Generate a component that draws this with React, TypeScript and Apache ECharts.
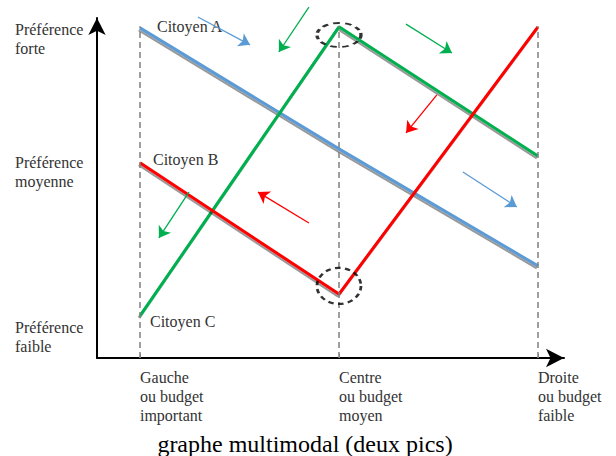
import React, { useEffect, useRef } from "react";
import * as echarts from "echarts";

// Positions on the x axis: 0 = Gauche, 1 = Centre, 2 = Droite
const positions = [0, 1, 2];
const xLabels = ["Gauche\nou budget\nimportant", "Centre\nou budget\nmoyen", "Droite\nou budget\nfaible"];

// Preference (0-100) for each citizen at each position
const citoyenA = [97.1, 61.5, 27.1];
const citoyenB = [57.4, 18.8, 97.4];
const citoyenC = [12.4, 97.4, 59.4];
const seriesNames = ["Citoyen A", "Citoyen B", "Citoyen C"];

// Y axis labels
const yLabelValues = [93.8, 54.7, 6.2];
const yLabels = ["Préférence\nforte", "Préférence\nmoyenne", "Préférence\nfaible"];

// Dashed guides top
const guideTop = 97.6;

// Movement arrows: [x0, y0, x1, y1]
const arrowsBlue = [
  [0.291, 100.3, 0.553, 92.1],
  [1.623, 54.7, 1.894, 44.4],
];
const arrowsGreen = [
  [0.849, 103.2, 0.698, 90.0],
  [1.337, 98.2, 1.568, 89.7],
  [0.246, 48.8, 0.095, 35.3],
];
const arrowsRed = [
  [1.492, 77.4, 1.337, 66.2],
  [0.849, 39.7, 0.593, 48.8],
];

// Peaks (dashed ellipses)
const peaks = [
  [1.0, 95.0],
  [1.0, 21.2],
];
const peakSizes = [
  [44, 24],
  [44, 36],
];

const title = "graphe multimodal (deux pics)";

const BLUE = "#5B9BD5";
const GREEN = "#00B050";
const RED = "#FF0000";
const FONT = "serif";

export default function App() {
  const ref = useRef<HTMLDivElement>(null);

  useEffect(() => {
    if (!ref.current) return;
    const chart = echarts.init(ref.current, undefined, { renderer: "svg" });

    const shadow = {
      shadowColor: "rgba(0,0,0,0.4)",
      shadowBlur: 1,
      shadowOffsetX: -1,
      shadowOffsetY: 2,
    };

    const makeLine = (name: string, vals: number[], color: string, lbl: any) => ({
      name,
      type: "line",
      data: vals.map((v, i) =>
        i === 0
          ? {
              value: [positions[i], v],
              label: {
                show: true,
                formatter: name,
                position: "right",
                distance: lbl.distance,
                offset: lbl.offset,
                color: "#333",
                fontFamily: FONT,
                fontSize: 16,
              },
            }
          : { value: [positions[i], v] }
      ),
      symbol: "circle",
      symbolSize: 0,
      showSymbol: true,
      lineStyle: { color, width: 3, ...shadow },
      itemStyle: { color },
      z: 3,
    });

    const makeArrows = (arr: number[][], color: string) => ({
      type: "lines",
      coordinateSystem: "cartesian2d",
      clip: false,
      symbol: ["none", "arrow"],
      symbolSize: 11,
      lineStyle: { color, width: 1.3, opacity: 1 },
      data: arr.map((a) => ({ coords: [[a[0], a[1]], [a[2], a[3]]] })),
      z: 4,
    });

    chart.setOption({
      animation: false,
      textStyle: { fontFamily: FONT },
      grid: { left: 97, top: 18, right: 52, bottom: 98 },
      title: {
        text: title,
        left: 305,
        textAlign: "center",
        top: 432,
        padding: 0,
        textStyle: { fontFamily: FONT, fontSize: 24, lineHeight: 24, fontWeight: "normal", color: "#000" },
      },
      xAxis: {
        type: "value",
        min: -0.216,
        max: 2.131,
        splitLine: { show: false },
        axisLine: {
          show: true,
          onZero: false,
          symbol: ["none", "arrow"],
          symbolSize: [14, 18],
          lineStyle: { color: "#000", width: 2 },
        },
        axisTick: {
          show: true,
          inside: true,
          length: 4,
          customValues: positions,
          lineStyle: { color: "#888", width: 1 },
        },
        axisLabel: {
          show: true,
          customValues: positions,
          formatter: (v: number) => xLabels[Math.round(v)] ?? "",
          align: "left",
          margin: 10,
          fontFamily: FONT,
          fontSize: 16,
          lineHeight: 19,
          color: "#333",
        },
      },
      yAxis: {
        type: "value",
        min: 0,
        max: 100,
        splitLine: { show: false },
        axisLine: {
          show: true,
          onZero: false,
          symbol: ["none", "arrow"],
          symbolSize: [13, 17],
          lineStyle: { color: "#000", width: 2 },
        },
        axisTick: { show: false },
        axisLabel: {
          show: true,
          customValues: yLabelValues,
          formatter: (v: number) => {
            const i = yLabelValues.findIndex((x) => Math.abs(x - v) < 0.01);
            return i >= 0 ? yLabels[i] : "";
          },
          align: "left",
          margin: 82,
          fontFamily: FONT,
          fontSize: 16,
          lineHeight: 19,
          color: "#333",
        },
      },
      series: [
        {
          type: "line",
          data: [],
          silent: true,
          markLine: {
            silent: true,
            symbol: ["none", "none"],
            label: { show: false },
            lineStyle: { color: "#808080", width: 1.5, type: [6, 4] },
            data: positions.map((p) => [{ coord: [p, 0] }, { coord: [p, guideTop] }]),
          },
          z: 1,
        },
        makeLine(seriesNames[0], citoyenA, BLUE, { distance: 17, offset: [0, -1] }),
        makeLine(seriesNames[2], citoyenC, GREEN, { distance: 10, offset: [0, 6] }),
        makeLine(seriesNames[1], citoyenB, RED, { distance: 13, offset: [0, -3] }),
        makeArrows(arrowsBlue, BLUE),
        makeArrows(arrowsGreen, GREEN),
        makeArrows(arrowsRed, RED),
        {
          type: "scatter",
          silent: true,
          data: peaks.map((p, i) => ({ value: p, symbolSize: peakSizes[i] })),
          symbol: "circle",
          itemStyle: {
            color: "transparent",
            borderColor: "#000",
            borderWidth: 2.5,
            borderType: [5, 4],
          },
          z: 5,
        },
      ],
    });

    return () => chart.dispose();
  }, []);

  return <div ref={ref} style={{ width: 616, height: 456, position: "absolute", left: 0, top: 0 }} />;
}
